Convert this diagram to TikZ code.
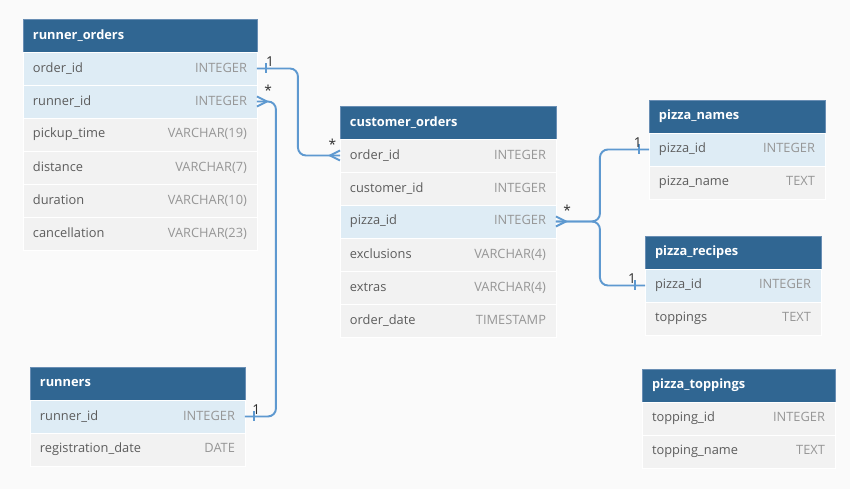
\documentclass[tikz,border=0pt]{standalone}
\usepackage{fontspec}
\setmainfont{Open Sans}
\usepackage{xcolor}
\usepackage{tikz}
\usetikzlibrary{positioning}
\definecolor{hdrblue}{RGB}{48,102,146}
\definecolor{hdrline}{RGB}{105,142,180}
\definecolor{keyfill}{RGB}{222,236,245}
\definecolor{rowfill}{RGB}{242,242,242}
\definecolor{bgfill}{RGB}{250,250,250}
\definecolor{fieldtxt}{RGB}{92,92,92}
\definecolor{typetxt}{RGB}{150,150,150}
\definecolor{linkblue}{RGB}{94,153,208}
\definecolor{cardtxt}{RGB}{45,45,45}
\tikzset{tw/.style={minimum width=#1cm, text width=#1cm-0.4cm},
	hdr/.style={fill=hdrblue, draw=hdrline, line width=0.4pt, text=white, font=\fontsize{7.3}{9}\selectfont\bfseries, minimum height=0.66cm, inner xsep=0.2cm, inner ysep=0pt, outer sep=0pt},
	fieldrow/.style={fill=rowfill, draw=white, line width=0.5pt, text=fieldtxt, minimum height=0.66cm, inner xsep=0.2cm, inner ysep=0pt, outer sep=0pt},
	keyrow/.style={fieldrow, fill=keyfill},
	conn/.style={draw=linkblue, line width=1.1pt},
	card/.style={text=cardtxt, inner sep=0pt, font=\fontsize{7.8}{9}\selectfont}}

\newcommand{\ty}[1]{\hfill\textcolor{typetxt}{#1}}

\begin{document}
\begin{tikzpicture}[x=0.02cm, y=-0.02cm, font=\fontsize{7.3}{9}\selectfont]
	\fill[bgfill] (0,0) rectangle (850,489);
	\useasboundingbox (0,0) rectangle (850,489);
	
	% runner_orders
	\node[hdr, tw=4.68, anchor=north west] (ro) at (23,19) {runner\_orders};
	\node[keyrow, tw=4.68, below=0pt of ro] (ro1) {order\_id\ty{INTEGER}};
	\node[keyrow, tw=4.68, below=0pt of ro1] (ro2) {runner\_id\ty{INTEGER}};
	\node[fieldrow, tw=4.68, below=0pt of ro2] (ro3) {pickup\_time\ty{VARCHAR(19)}};
	\node[fieldrow, tw=4.68, below=0pt of ro3] (ro4) {distance\ty{VARCHAR(7)}};
	\node[fieldrow, tw=4.68, below=0pt of ro4] (ro5) {duration\ty{VARCHAR(10)}};
	\node[fieldrow, tw=4.68, below=0pt of ro5] (ro6) {cancellation\ty{VARCHAR(23)}};
	
	% customer_orders
	\node[hdr, tw=4.32, anchor=north west] (co) at (340,106) {customer\_orders};
	\node[fieldrow, tw=4.32, below=0pt of co] (co1) {order\_id\ty{INTEGER}};
	\node[fieldrow, tw=4.32, below=0pt of co1] (co2) {customer\_id\ty{INTEGER}};
	\node[keyrow, tw=4.32, below=0pt of co2] (co3) {pizza\_id\ty{INTEGER}};
	\node[fieldrow, tw=4.32, below=0pt of co3] (co4) {exclusions\ty{VARCHAR(4)}};
	\node[fieldrow, tw=4.32, below=0pt of co4] (co5) {extras\ty{VARCHAR(4)}};
	\node[fieldrow, tw=4.32, below=0pt of co5] (co6) {order\_date\ty{TIMESTAMP}};
	
	% pizza_names
	\node[hdr, tw=3.52, anchor=north west] (pn) at (649,100) {pizza\_names};
	\node[keyrow, tw=3.52, below=0pt of pn] (pn1) {pizza\_id\ty{INTEGER}};
	\node[fieldrow, tw=3.52, below=0pt of pn1] (pn2) {pizza\_name\ty{TEXT}};
	
	% pizza_recipes
	\node[hdr, tw=3.52, anchor=north west] (pr) at (645,236) {pizza\_recipes};
	\node[keyrow, tw=3.52, below=0pt of pr] (pr1) {pizza\_id\ty{INTEGER}};
	\node[fieldrow, tw=3.52, below=0pt of pr1] (pr2) {toppings\ty{TEXT}};
	
	% runners
	\node[hdr, tw=4.30, anchor=north west] (rn) at (30,367) {runners};
	\node[keyrow, tw=4.30, below=0pt of rn] (rn1) {runner\_id\ty{INTEGER}};
	\node[fieldrow, tw=4.30, below=0pt of rn1] (rn2) {registration\_date\ty{DATE}};
	
	% pizza_toppings
	\node[hdr, tw=3.86, anchor=north west] (pt) at (642,369) {pizza\_toppings};
	\node[fieldrow, tw=3.86, below=0pt of pt] (pt1) {topping\_id\ty{INTEGER}};
	\node[fieldrow, tw=3.86, below=0pt of pt1] (pt2) {topping\_name\ty{TEXT}};
	
	% links
	\draw[conn, rounded corners=0.16cm] (ro1.east) -- ++(41,0) |- (co1.west);
	\draw[conn, rounded corners=0.16cm] (rn1.east) -- ++(31,0) |- (ro2.east);
	\draw[conn, rounded corners=0.16cm] (co3.east) -- ++(44,0) |- (pn1.west);
	\draw[conn, rounded corners=0.16cm] (co3.east) -- ++(44,0) |- (pr1.west);
	
	% one ends
	\draw[conn] (ro1.east) ++(9,-5) -- ++(0,10);
	\draw[conn] (rn1.east) ++(9,-5) -- ++(0,10);
	\draw[conn] (pn1.west) ++(-10,-5) -- ++(0,10);
	\draw[conn] (pr1.west) ++(-10,-5) -- ++(0,10);
	
	% many ends
	\draw[conn] (ro2.east) ++(0,-5) -- ++(10,5) -- ++(-10,5);
	\draw[conn] (co1.west) ++(0,-5) -- ++(-10,5) -- ++(10,5);
	\draw[conn] (co3.east) ++(0,-5) -- ++(10,5) -- ++(-10,5);
	
	\node[card, above right=1pt and 5pt of ro1.east] (k1) {1};
	\node[card, above right=3pt and 4pt of ro2.east] (k2) {*};
	\node[card, above left=3pt and 2pt of co1.west] (k3) {*};
	\node[card, above right=3pt and 4pt of co3.east] (k4) {*};
	\node[card, above left=1pt and 4pt of pn1.west] (k5) {1};
	\node[card, above left=1pt and 5pt of pr1.west] (k6) {1};
	\node[card, above right=1pt and 4pt of rn1.east] (k7) {1};
\end{tikzpicture}
\end{document}
